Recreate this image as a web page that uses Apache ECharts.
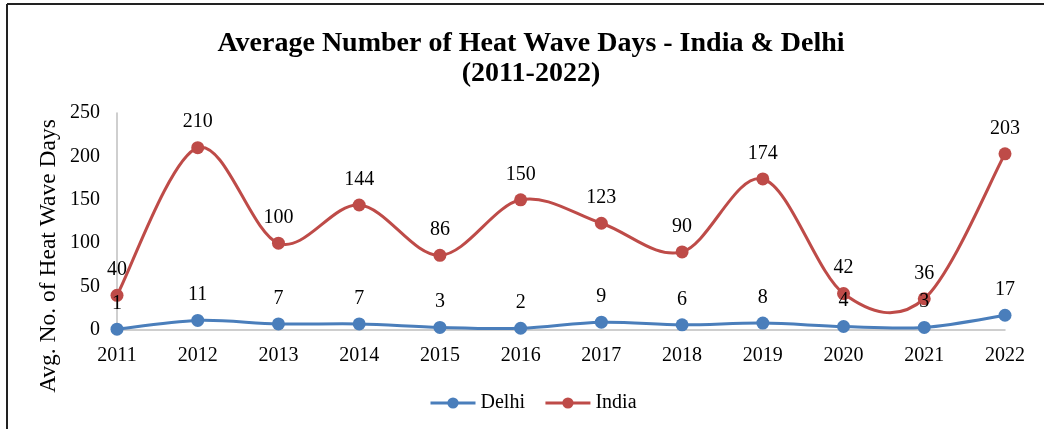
<!DOCTYPE html>
<html>
<head>
<meta charset="utf-8">
<script src="https://cdn.jsdelivr.net/npm/echarts@6/dist/echarts.min.js"></script>
<style>
html,body{margin:0;padding:0;background:#fff;}
#chart{width:1044px;height:429px;}
</style>
</head>
<body>
<div id="chart"></div>
<script>
const years = ['2011','2012','2013','2014','2015','2016','2017','2018','2019','2020','2021','2022'];
const delhi = [1,11,7,7,3,2,9,6,8,4,3,17];
const india = [40,210,100,144,86,150,123,90,174,42,36,203];
const yTicks = {min:0, max:250, interval:50};
const titleText = 'Average Number of Heat Wave Days - India & Delhi\n(2011-2022)';
const yName = 'Avg. No. of Heat Wave Days';

const FONT = "'Liberation Serif','Times New Roman',Times,serif";
const BLUE = '#4a7ebb', RED = '#be4b48';
const chart = echarts.init(document.getElementById('chart'), null, {renderer:'canvas'});
const labelStyle = {show:true, position:'top', distance:9, color:'#000', fontFamily:FONT, fontSize:20};

// Excel-style (Catmull-Rom, 1/6 tension) smoothed curve segment, drawn through axis coords
function curveSeries(name, values, color) {
  return {
    name: name, type:'custom', z:1, silent:true,
    data: values.map((v,i)=>[i,v]),
    renderItem: function(params, api) {
      const i = params.dataIndex;
      const n = values.length;
      if (i >= n - 1) return null;
      const P = k => api.coord([Math.max(0, Math.min(n-1, k)), values[Math.max(0, Math.min(n-1, k))]]);
      const p0 = P(i-1), p1 = P(i), p2 = P(i+1), p3 = P(i+2);
      return {
        type:'bezierCurve',
        shape:{
          x1:p1[0], y1:p1[1], x2:p2[0], y2:p2[1],
          cpx1:p1[0] + (p2[0]-p0[0])/6, cpy1:p1[1] + (p2[1]-p0[1])/6,
          cpx2:p2[0] - (p3[0]-p1[0])/6, cpy2:p2[1] - (p3[1]-p1[1])/6
        },
        style:{stroke:color, lineWidth:3, fill:null}
      };
    }
  };
}

chart.setOption({
  animation:false,
  backgroundColor:'#fff',
  title:{
    text:titleText, left:526, top:24, textAlign:'center',
    textStyle:{fontFamily:FONT, fontWeight:'bold', fontSize:28, lineHeight:30, color:'#000'}
  },
  grid:{left:117, right:39, top:113, bottom:99},
  legend:{
    data:[
      {name:'Delhi', lineStyle:{color:BLUE, width:3, opacity:1}, itemStyle:{color:BLUE}},
      {name:'India', lineStyle:{color:RED, width:3, opacity:1}, itemStyle:{color:RED}}
    ],
    top:388, left:424, itemWidth:45, itemHeight:14, itemGap:19,
    textStyle:{fontFamily:FONT, fontSize:20, color:'#000'}
  },
  xAxis:{
    type:'category', data:years, boundaryGap:false,
    axisLine:{lineStyle:{color:'#bfbfbf', width:1.5}},
    axisTick:{show:false},
    axisLabel:{fontFamily:FONT, fontSize:20, color:'#000', margin:16}
  },
  yAxis:{
    type:'value', min:yTicks.min, max:yTicks.max, interval:yTicks.interval,
    axisLine:{show:true, lineStyle:{color:'#bfbfbf', width:1.5}},
    axisTick:{show:false},
    splitLine:{show:false},
    axisLabel:{fontFamily:FONT, fontSize:20, color:'#000', margin:17}
  },
  graphic:[
    {type:'line', shape:{x1:7, y1:4, x2:1044, y2:4}, style:{stroke:'#222', lineWidth:2}},
    {type:'line', shape:{x1:7, y1:4, x2:7, y2:429}, style:{stroke:'#222', lineWidth:2}},
    {type:'text', x:49, y:256, rotation:Math.PI/2,
     style:{text:yName, fontFamily:FONT, fontSize:23.5, fill:'#000', align:'center', verticalAlign:'middle'}}
  ],
  series:[
    curveSeries('DelhiCurve', delhi, BLUE),
    curveSeries('IndiaCurve', india, RED),
    {name:'Delhi', type:'line', data:delhi, symbol:'circle', symbolSize:13,
     itemStyle:{color:BLUE}, lineStyle:{width:3, color:BLUE, opacity:0}, label:labelStyle, z:4},
    {name:'India', type:'line', data:india, symbol:'circle', symbolSize:13,
     itemStyle:{color:RED}, lineStyle:{width:3, color:RED, opacity:0}, label:labelStyle, z:3}
  ]
});
</script>
</body>
</html>
